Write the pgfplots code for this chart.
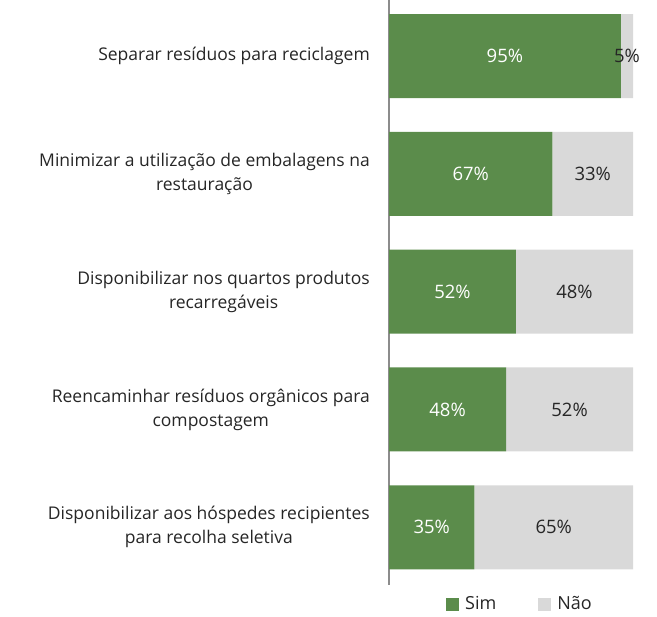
\documentclass[border=0pt]{standalone}
\usepackage{pgfplots}
\pgfplotsset{compat=1.18}
\usepackage{fontspec}
\setmainfont{Open Sans}
\definecolor{sim}{HTML}{5B8C4B}
\definecolor{nao}{HTML}{D9D9D9}
\definecolor{axisgray}{HTML}{8C8C8C}
\definecolor{txt}{HTML}{262626}
\begin{document}
\begin{tikzpicture}[x=1bp,y=1bp]
\begin{axis}[
  at={(389bp,32bp)}, anchor=south west,
  scale only axis, width=244bp, height=585bp,
  xbar stacked, bar width=0.713,
  xmin=0, xmax=100, ymin=-0.476, ymax=4.49, y dir=reverse,
  axis x line=none,
  axis y line=left,
  axis line style={-, draw=axisgray, line width=1.5bp},
  ytick={0,1,2,3,4},
  yticklabels={
    {Separar resíduos para reciclagem},
    {Minimizar a utilização de embalagens na\\restauração},
    {Disponibilizar nos quartos produtos\\recarregáveis},
    {Reencaminhar resíduos orgânicos para\\compostagem},
    {Disponibilizar aos hóspedes recipientes\\para recolha seletiva}},
  major tick length=0pt,
  y tick label style={align=center, font=\fontsize{17.5bp}{24bp}\selectfont, text=txt, inner sep=0pt, xshift=-19bp},
  /pgf/number format/assume math mode=true,
  point meta=rawx,
  nodes near coords={\pgfmathprintnumber{\pgfplotspointmeta}\%},
  every node near coord/.append style={anchor=center, font=\fontsize{18.5bp}{20bp}\selectfont},
  legend style={at={(0.537,-0.0325)}, anchor=center, draw=none, fill=none, legend columns=2,
    font=\fontsize{18bp}{20bp}\selectfont, text=txt,
    /tikz/every odd column/.append style={column sep=4bp},
    /tikz/every even column/.append style={column sep=40bp}},
  legend image code/.code={\fill[#1] (0bp,-6.5bp) rectangle (13bp,6.5bp);},
]
\addplot[fill=sim, draw=none, every node near coord/.append style={text=white}] coordinates {(95,0) (67,1) (52,2) (48,3) (35,4)};
\addlegendentry{Sim}
\addplot[fill=nao, draw=none, every node near coord/.append style={text=txt}] coordinates {(5,0) (33,1) (48,2) (52,3) (65,4)};
\addlegendentry{Não}
\end{axis}
\pgfresetboundingbox
\path (0,0) rectangle (657,617);
\end{tikzpicture}
\end{document}
